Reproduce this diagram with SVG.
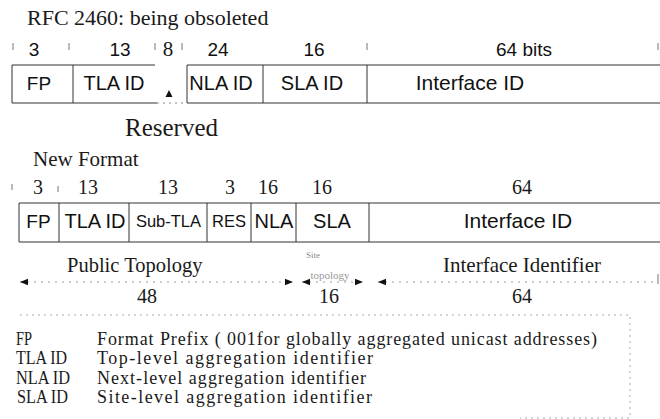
<svg xmlns="http://www.w3.org/2000/svg" width="660" height="419" viewBox="0 0 660 419">
<style>
.serif{font-family:"Liberation Serif","Times New Roman",serif;fill:#1a1a1a}
.sans{font-family:"Liberation Sans",Arial,sans-serif;fill:#111}
.box{fill:none;stroke:#333;stroke-width:1}
.tick{stroke:#777;stroke-width:1}
.dot{stroke:#888;stroke-width:1;stroke-dasharray:2 4;fill:none}
.arr{stroke:#999;stroke-width:1;stroke-dasharray:2 5;fill:none}
.mid{text-anchor:middle}
.leg{font-size:18px}
</style>
<defs>
<marker id="ah" viewBox="0 0 10 10" refX="10" refY="5" markerWidth="8" markerHeight="8" markerUnits="userSpaceOnUse" orient="auto-start-reverse">
<path d="M0,1 L10,5 L0,9 Z" fill="#111"/>
</marker>
</defs>
<rect width="660" height="419" fill="#fff"/>

<g id="title-old">
<text class="serif" x="27" y="25" font-size="22">RFC 2460: being obsoleted</text>
</g>

<g id="old-bits">
<line class="tick" x1="13" y1="43" x2="13" y2="50"/>
<line class="tick" x1="69" y1="43" x2="69" y2="50"/>
<line class="tick" x1="155" y1="43" x2="155" y2="50"/>
<line class="tick" x1="182" y1="43" x2="182" y2="50"/>
<line class="tick" x1="367" y1="43" x2="367" y2="50"/>
<line class="tick" x1="658" y1="43" x2="658" y2="50"/>
<text class="sans mid" x="34" y="56" font-size="19">3</text>
<text class="sans mid" x="120" y="56" font-size="19">13</text>
<text class="serif mid" x="168" y="56" font-size="21">8</text>
<text class="sans mid" x="218" y="56" font-size="19">24</text>
<text class="sans mid" x="314" y="56" font-size="19">16</text>
<text class="sans mid" x="524" y="56" font-size="19">64 bits</text>
</g>

<g id="old-fp">
<path class="box" d="M155,65 H12 V103 H157"/>
<line class="box" x1="73" y1="65" x2="73" y2="103"/>
<text class="sans mid" x="39" y="90" font-size="19">FP</text>
</g>
<g id="old-tla">
<text class="sans mid" x="114" y="90" font-size="20">TLA ID</text>
</g>
<g id="old-reserved">
<line class="dot" x1="157" y1="103" x2="187" y2="103"/>
<path d="M169,90 L172.5,97 L165.5,97 Z" fill="#111"/>
<text class="serif mid" x="171.5" y="136" font-size="25">Reserved</text>
</g>
<g id="old-nla">
<path class="box" d="M662,65 H187 V103 H662"/>
<text class="sans mid" x="221" y="90" font-size="20">NLA ID</text>
</g>
<g id="old-sla">
<line class="box" x1="263" y1="65" x2="263" y2="103"/>
<text class="sans mid" x="312" y="90" font-size="20">SLA ID</text>
</g>
<g id="old-iid">
<line class="box" x1="367" y1="65" x2="367" y2="103"/>
<text class="sans mid" x="470" y="90" font-size="21">Interface ID</text>
</g>

<g id="title-new">
<text class="serif" x="33" y="166" font-size="21">New Format</text>
</g>

<g id="new-bits">
<line class="tick" x1="12" y1="184" x2="12" y2="190"/>
<line class="tick" x1="58" y1="186" x2="58" y2="192"/>
<text class="serif mid" x="38" y="194" font-size="20">3</text>
<text class="serif mid" x="88" y="194" font-size="20">13</text>
<text class="serif mid" x="168" y="194" font-size="20">13</text>
<text class="serif mid" x="230" y="194" font-size="20">3</text>
<text class="serif mid" x="268" y="194" font-size="20">16</text>
<text class="serif mid" x="322" y="194" font-size="20">16</text>
<text class="serif mid" x="522" y="194" font-size="20">64</text>
</g>

<g id="new-boxes">
<path class="box" d="M662,203 H19 V242 H662"/>
</g>
<g id="new-fp">
<line class="box" x1="59" y1="203" x2="59" y2="242"/>
<text class="sans mid" x="38.5" y="228" font-size="19">FP</text>
</g>
<g id="new-tla">
<line class="box" x1="129" y1="203" x2="129" y2="242"/>
<text class="sans mid" x="95" y="228" font-size="20">TLA ID</text>
</g>
<g id="new-subtla">
<line class="box" x1="207" y1="203" x2="207" y2="242"/>
<text class="sans mid" x="168.5" y="227" font-size="16.5">Sub-TLA</text>
</g>
<g id="new-res">
<line class="box" x1="251" y1="203" x2="251" y2="242"/>
<text class="sans mid" x="229" y="227" font-size="16.5">RES</text>
</g>
<g id="new-nla">
<line class="box" x1="296" y1="203" x2="296" y2="242"/>
<text class="sans mid" x="274" y="228" font-size="20">NLA</text>
</g>
<g id="new-sla">
<line class="box" x1="369" y1="203" x2="369" y2="242"/>
<text class="sans mid" x="332" y="228" font-size="20">SLA</text>
</g>
<g id="new-iid">
<text class="sans mid" x="518" y="228" font-size="21">Interface ID</text>
</g>

<g id="connectors">
<line class="arr" x1="20" y1="282" x2="293" y2="282" marker-start="url(#ah)" marker-end="url(#ah)"/>
<line class="arr" x1="302" y1="282" x2="363" y2="282" marker-start="url(#ah)" marker-end="url(#ah)"/>
<line class="arr" x1="378" y1="282" x2="656" y2="282" marker-start="url(#ah)"/>
<line class="tick" x1="658" y1="274" x2="658" y2="284"/>
</g>

<g id="topology-labels">
<text class="serif" x="67" y="272" font-size="20.5">Public Topology</text>
<text class="serif mid" x="313" y="258" font-size="9" style="fill:#888">Site</text>
<text class="serif mid" x="330" y="279" font-size="11" style="fill:#999">topology</text>
<text class="serif" x="443" y="272" font-size="21">Interface Identifier</text>
<text class="serif mid" x="147" y="303" font-size="20">48</text>
<text class="serif mid" x="329" y="303" font-size="20">16</text>
<text class="serif mid" x="522" y="303" font-size="20">64</text>
</g>

<g id="legend">
<path class="dot" d="M20,315 H630 V418 H520" style="stroke:#aaa"/>
<text class="serif leg" x="16" y="345" textLength="16" lengthAdjust="spacingAndGlyphs">FP</text>
<text class="serif leg" x="97" y="345" textLength="500">Format Prefix ( 001for globally aggregated unicast addresses)</text>
<text class="serif leg" x="16" y="364" textLength="51" lengthAdjust="spacingAndGlyphs">TLA ID</text>
<text class="serif leg" x="97" y="364" textLength="276">Top-level aggregation identifier</text>
<text class="serif leg" x="16" y="384" textLength="54" lengthAdjust="spacingAndGlyphs">NLA ID</text>
<text class="serif leg" x="97" y="384" textLength="269">Next-level aggregation identifier</text>
<text class="serif leg" x="17" y="403" textLength="51" lengthAdjust="spacingAndGlyphs">SLA ID</text>
<text class="serif leg" x="97" y="403" textLength="275">Site-level aggregation identifier</text>
</g>
</svg>
